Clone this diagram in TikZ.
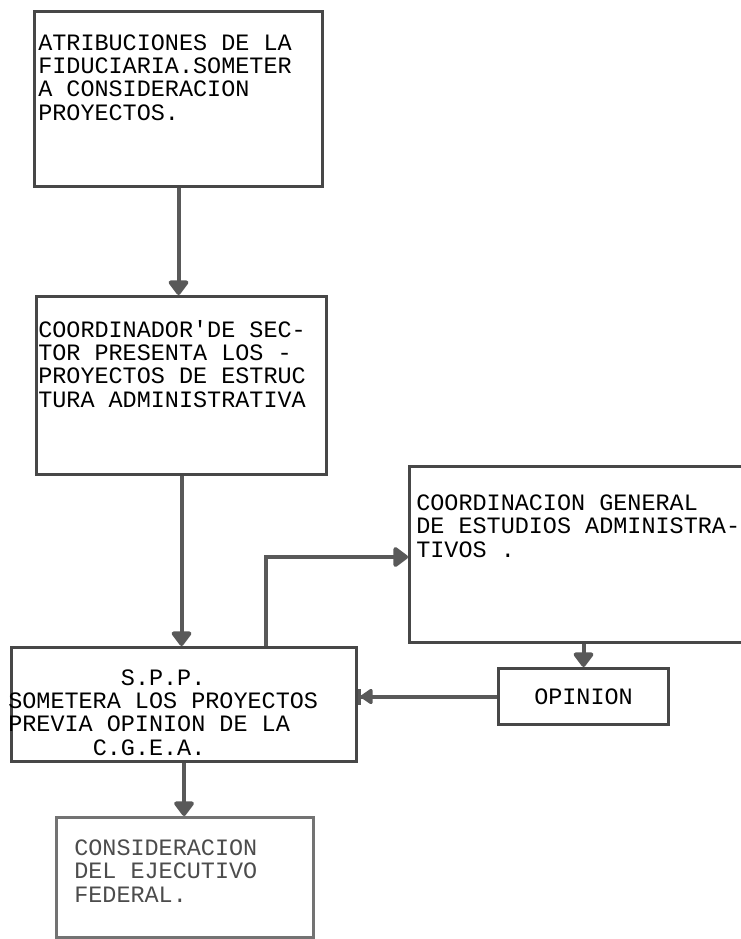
\documentclass[tikz,border=0pt]{standalone}
\usepackage{fontspec}
\setmonofont{Liberation Mono}
\usetikzlibrary{arrows.meta}
\begin{document}
\begin{tikzpicture}[
  x=0.75pt,
  y=-0.75pt,
  every node/.style={font=\ttfamily\fontsize{17.6}{17.5}\selectfont},
  box/.style={draw=black!72, line width=2.3pt, inner sep=0pt, anchor=north west},
  boxtext/.style={inner sep=0pt, anchor=base west, align=left},
  link/.style={draw=black!65, line width=3pt},
  tip/.style={-{Triangle[width=17pt, length=12pt, round]}},
  bartip/.style={-{Triangle[width=13pt, length=10pt, round] Bar[width=12pt, line width=2pt]}}
]
  \useasboundingbox (0,0) rectangle (740,939);

  \node[box, minimum width=288*0.75pt, minimum height=175*0.75pt] (fid) at (33,10) {};
  \node[box, minimum width=290*0.75pt, minimum height=178*0.75pt] (coord) at (35,295) {};
  \node[box, minimum width=352*0.75pt, minimum height=176*0.75pt] (cgea) at (408,465) {};
  \node[box, minimum width=345*0.75pt, minimum height=114*0.75pt] (spp) at (10,646) {};
  \node[box, minimum width=170*0.75pt, minimum height=56*0.75pt] (opin) at (497,667) {};
  \node[box, draw=black!55, minimum width=257*0.75pt, minimum height=120*0.75pt] (cef) at (55,816) {};

  \node[boxtext] (fidtxt) at (38,120) {ATRIBUCIONES DE LA\\FIDUCIARIA.SOMETER\\A CONSIDERACION\\PROYECTOS.};
  \node[boxtext] (coordtxt) at (38,407) {COORDINADOR'DE SEC-\\TOR PRESENTA LOS -\\PROYECTOS DE ESTRUC\\TURA ADMINISTRATIVA};
  \node[boxtext] (cgeatxt) at (416,557) {COORDINACION GENERAL\\DE ESTUDIOS ADMINISTRA-\\TIVOS .};
  \node[boxtext] (spptxt) at (8,755) {\phantom{XXXXXXXX}S.P.P.\\SOMETERA LOS PROYECTOS\\PREVIA OPINION DE LA\\\phantom{XXXXXX}C.G.E.A.};
  \node[inner sep=0pt] (opintxt) at (opin.center) {OPINION};
  \node[boxtext, text=black!70] (ceftxt) at (74,902) {CONSIDERACION\\DEL EJECUTIVO\\FEDERAL.};

  \coordinate (bend) at (266,557);

  \draw[link, tip] (fid.south) -- (fid.south |- coord.north);
  \draw[link, tip] (coord.south) -- (coord.south |- spp.north);
  \draw[link, tip] (bend |- spp.north) -- (bend) -- (bend -| cgea.west);
  \draw[link, tip] (opin.north |- cgea.south) -- (opin.north);
  \draw[link, bartip] (opin.west) -- (opin.west -| spp.east);
  \draw[link, tip] (spp.south) -- (spp.south |- cef.north);
\end{tikzpicture}
\end{document}
